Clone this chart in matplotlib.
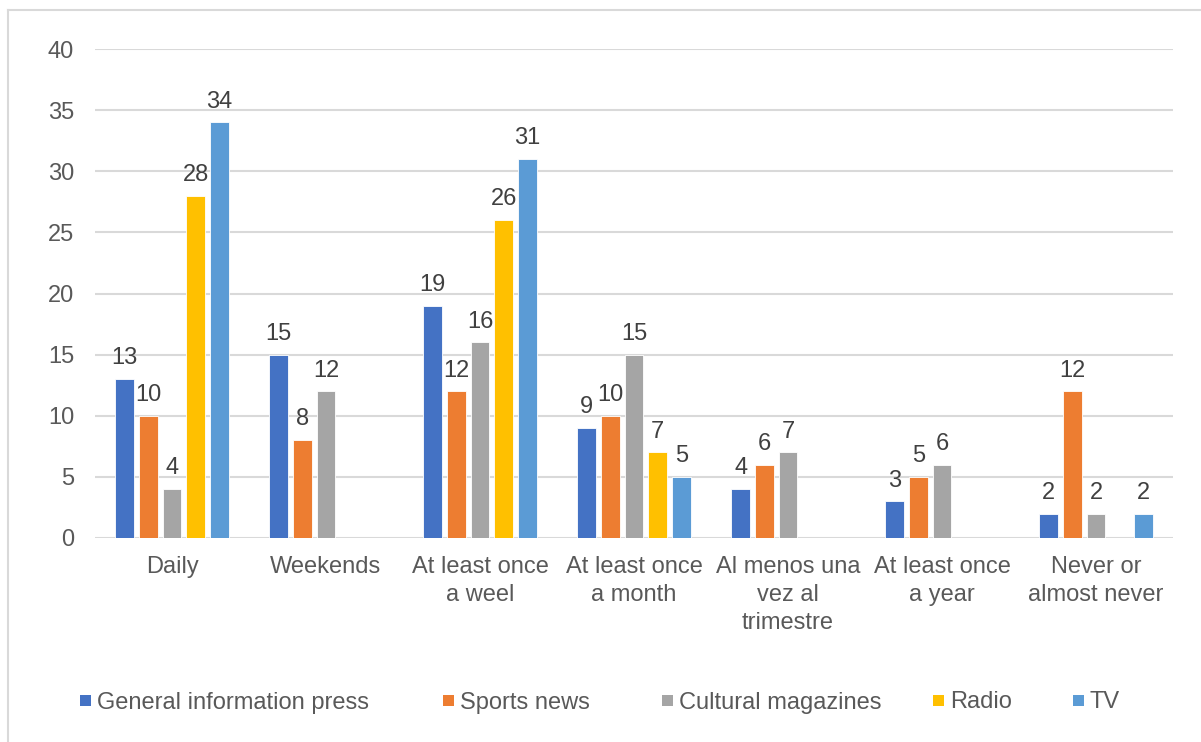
import numpy as np
import matplotlib
matplotlib.use("Agg")
import matplotlib.pyplot as plt
from matplotlib.lines import Line2D
from matplotlib.patches import Rectangle

plt.rcParams['font.family'] = ['Liberation Sans', 'DejaVu Sans']

categories = ["Daily", "Weekends", "At least once\na weel", "At least once\na month",
              "Al menos una\nvez al\ntrimestre", "At least once\na year", "Never or\nalmost never"]
series_names = ["General information press", "Sports news", "Cultural magazines", "Radio", "TV"]
general_press = [13, 15, 19, 9, 4, 3, 2]
sports_news = [10, 8, 12, 10, 6, 5, 12]
cultural_mags = [4, 12, 16, 15, 7, 6, 2]
radio = [28, None, 26, 7, None, None, None]
tv = [34, None, 31, 5, None, None, 2]
y_ticks = [0, 5, 10, 15, 20, 25, 30, 35, 40]

colors = ["#4472C4", "#ED7D31", "#A5A5A5", "#FFC000", "#5B9BD5"]
text_color = "#595959"
grid_color = "#D9D9D9"
fs = 17

W, H = 1201, 742
fig = plt.figure(figsize=(W / 100, H / 100), dpi=100)
fig.patch.set_facecolor("white")

# chart frame (left and top edges)
fig.add_artist(Line2D([8 / W, 8 / W], [0, 1 - 10 / H], color=grid_color, lw=1.5, transform=fig.transFigure))
fig.add_artist(Line2D([8 / W, 1], [1 - 10 / H, 1 - 10 / H], color=grid_color, lw=1.5, transform=fig.transFigure))

ax = fig.add_axes([95 / W, 204 / H, (1173 - 95) / W, (693 - 204) / H])
ax.set_xlim(-0.5, len(categories) - 0.5)
ax.set_ylim(0, 40)
ax.set_yticks(y_ticks)
ax.yaxis.grid(True, color=grid_color, lw=1.5)
ax.set_axisbelow(True)
for s in ax.spines.values():
    s.set_visible(False)
ax.tick_params(axis='both', length=0, labelsize=fs, colors=text_color)
ax.tick_params(axis='y', pad=15)
ax.tick_params(axis='x', pad=13)
ax.set_xticks(range(len(categories)))
ax.set_xticklabels(categories, linespacing=1.36, va='top')

all_series = [general_press, sports_news, cultural_mags, radio, tv]
step = 0.154
bw = 0.12
x = np.arange(len(categories))
for i, (vals, col) in enumerate(zip(all_series, colors)):
    xs = x + (i - 2) * step
    v = np.array([np.nan if a is None else a for a in vals], dtype=float)
    ax.bar(xs, v, width=bw, color=col, edgecolor="white", linewidth=0.6, zorder=3)
    for xi, vi in zip(xs, v):
        if not np.isnan(vi):
            ax.annotate(f"{int(vi)}", (xi, vi), xytext=(0, 7), textcoords="offset points",
                        ha="center", va="bottom", fontsize=fs, color="#404040")

# legend row along the bottom
legend_x = [80, 443, 662, 933, 1073]
legend_y = 700
sq = 11
for name, col, lx in zip(series_names, colors, legend_x):
    fig.add_artist(Rectangle((lx / W, (H - legend_y - sq / 2) / H), sq / W, sq / H,
                             facecolor=col, edgecolor="none", transform=fig.transFigure))
    fig.text((lx + sq + 6) / W, (H - legend_y) / H, name, ha="left", va="center_baseline",
             fontsize=fs, color=text_color)

fig.savefig("out.png", dpi=100, facecolor="white")
